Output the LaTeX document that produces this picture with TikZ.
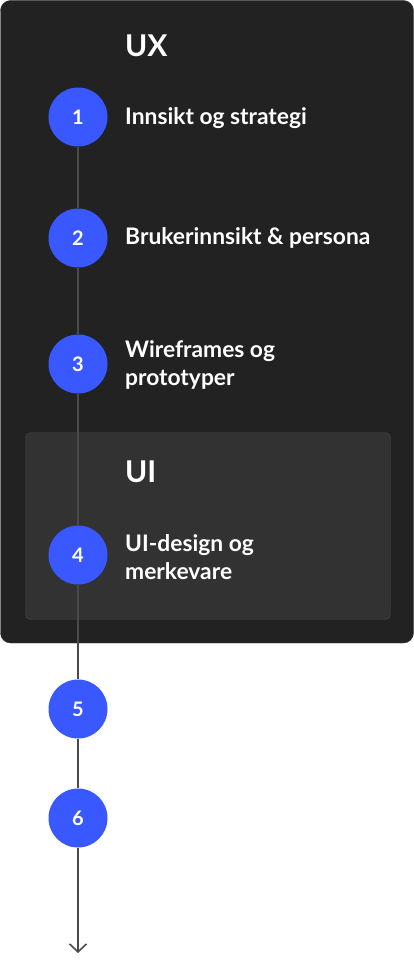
\documentclass[tikz,border=0pt]{standalone}
\usepackage{fontspec}
\setmainfont{Lato}
\usetikzlibrary{arrows.meta}

\definecolor{boxdark}{HTML}{222222}
\definecolor{boxedge}{HTML}{3A3A3A}
\definecolor{uibox}{HTML}{323232}
\definecolor{uiedge}{HTML}{454545}
\definecolor{stepblue}{HTML}{3A58FF}
\definecolor{timeline}{HTML}{4A4A4A}

\tikzset{
  stepdot/.style={circle, fill=stepblue, minimum size=59pt, inner sep=0pt,
    text=white, font=\bfseries\fontsize{20}{24}\selectfont},
  steplabel/.style={anchor=base west, inner sep=0pt, text=white, align=left,
    font=\bfseries\fontsize{22.8}{28}\selectfont},
  phase/.style={anchor=base west, inner sep=0pt, text=white, font=\bfseries\fontsize{30}{36}\selectfont},
  timeline/.style={draw=timeline, line width=1.6pt}
}

\begin{document}
\begin{tikzpicture}[x=1pt,y=-1pt]
\useasboundingbox (0,0) rectangle (414,960);

% UX and UI boxes
\draw[fill=boxdark, draw=boxedge, rounded corners=10pt] (0.5,0.5) rectangle (413.5,643);
\draw[fill=uibox, draw=uiedge, rounded corners=5pt] (25.5,432.5) rectangle (390.5,619.5);

\node[phase] (ux) at (125,57) {UX};
\node[phase] (ui) at (125,482) {UI};

\foreach \n/\y in {1/117,2/238,3/364,4/555,5/709,6/818}
  \node[stepdot] (s\n) at (78,\y) {\n};
\coordinate (tip) at (78,953);

\foreach \a/\b in {s1/s2,s2/s3,s3/s4,s4/s5,s5/s6}
  \draw[timeline] (\a) -- (\b);
\draw[timeline, -{Straight Barb[length=8pt,width=17pt,line width=1.6pt]}] (s6) -- (tip);

% last baseline for two-line labels
\node[steplabel] (l1) at (125,125) {Innsikt og strategi};
\node[steplabel] (l2) at (125,244) {Brukerinnsikt \& persona};
\node[steplabel] (l3) at (125,385) {Wireframes og\\prototyper};
\node[steplabel] (l4) at (125,579) {UI-design og\\merkevare};

\end{tikzpicture}
\end{document}
